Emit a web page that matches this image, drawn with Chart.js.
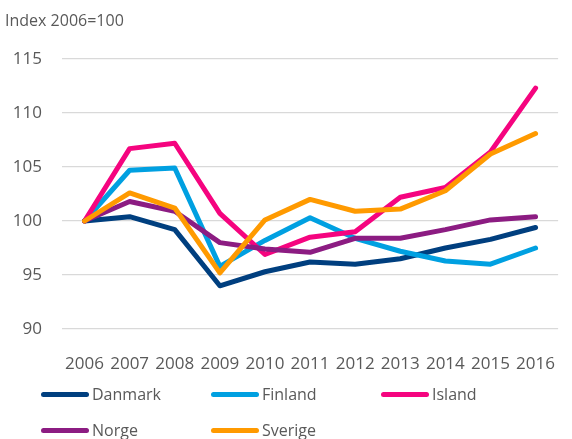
<!DOCTYPE html>
<html>
<head>
<meta charset="utf-8">
<script src="https://cdn.jsdelivr.net/npm/chart.js@4.4.1/dist/chart.umd.min.js"></script>
<style>
  html, body { margin: 0; padding: 0; background: #fff; }
  #wrap { position: relative; width: 572px; height: 439px; font-family: "Open Sans", sans-serif; color: #595959; }
  #title { position: absolute; left: 5px; top: 8px; font-size: 16px; line-height: 24px; }
  .item { position: absolute; display: flex; align-items: center; font-size: 16px; line-height: 22px; }
  .item .swatch { width: 48px; height: 5px; border-radius: 3px; margin-right: 3px; }
</style>
</head>
<body>
<div id="wrap">
  <canvas id="myChart" width="572" height="439"></canvas>
  <div id="title">Index 2006=100</div>
  <div id="legend"></div>
</div>
<script>
var years = ['2006','2007','2008','2009','2010','2011','2012','2013','2014','2015','2016'];
var yTicks = [90, 95, 100, 105, 110, 115];

var danmark = [100, 100.4, 99.2, 94.0, 95.3, 96.2, 96.0, 96.5, 97.5, 98.3, 99.4];
var finland = [100, 104.7, 104.9, 95.8, 98.2, 100.3, 98.4, 97.2, 96.3, 96.0, 97.5];
var island  = [100, 106.7, 107.2, 100.7, 96.9, 98.5, 99.0, 102.2, 103.1, 106.4, 112.3];
var norge   = [100, 101.8, 100.9, 98.0, 97.4, 97.1, 98.4, 98.4, 99.2, 100.1, 100.4];
var sverige = [100, 102.6, 101.2, 95.2, 100.1, 102.0, 100.9, 101.1, 102.8, 106.2, 108.1];

var names  = ['Danmark', 'Finland', 'Island', 'Norge', 'Sverige'];
var series = [danmark, finland, island, norge, sverige];
var colors = ['#003f7f', '#00a0e1', '#f5047f', '#8c1c82', '#ff9a00'];

var datasets = series.map(function(vals, i){
    return {
        label: names[i],
        data: vals,
        borderColor: colors[i],
        backgroundColor: colors[i],
        borderWidth: 5,
        borderCapStyle: 'round',
        borderJoinStyle: 'round',
        pointRadius: 0,
        tension: 0,
        fill: false,
        order: names.length - i   // last series drawn on top, like the original
    };
});

// legend in three columns
var legendPos = [[41, 383], [211, 383], [381, 383], [41, 419], [211, 419]];
var legend = document.getElementById('legend');
names.forEach(function(n, i){
    var el = document.createElement('div');
    el.className = 'item';
    el.style.left = legendPos[i][0] + 'px';
    el.style.top = legendPos[i][1] + 'px';
    el.innerHTML = '<span class="swatch" style="background:' + colors[i] + '"></span>' + n;
    legend.appendChild(el);
});

var ctx = document.getElementById('myChart').getContext('2d');
var myChart = new Chart(ctx, {
    type: 'line',
    data: { labels: years, datasets: datasets },
    options: {
        responsive: false,
        animation: false,
        layout: { padding: { top: 59, right: 0, bottom: 0, left: 0 } },
        scales: {
            x: {
                offset: true,
                grid: { display: false },
                border: { display: false },
                ticks: {
                    color: '#595959',
                    font: { family: 'Open Sans', size: 17 },
                    padding: 17,
                    maxRotation: 0,
                    autoSkip: false
                },
                afterFit: function(s){ s.height = 110; }
            },
            y: {
                min: 90,
                max: 115,
                afterBuildTicks: function(s){
                    s.ticks = yTicks.map(function(v){ return { value: v }; });
                },
                grid: { color: '#d9d9d9', lineWidth: 1.3, drawTicks: false },
                border: { display: false },
                ticks: {
                    color: '#595959',
                    font: { family: 'Open Sans', size: 17 },
                    padding: 20
                },
                afterFit: function(s){ s.width = 62; }
            }
        },
        plugins: {
            legend: { display: false },
            tooltip: { enabled: false }
        }
    }
});
</script>
</body>
</html>
